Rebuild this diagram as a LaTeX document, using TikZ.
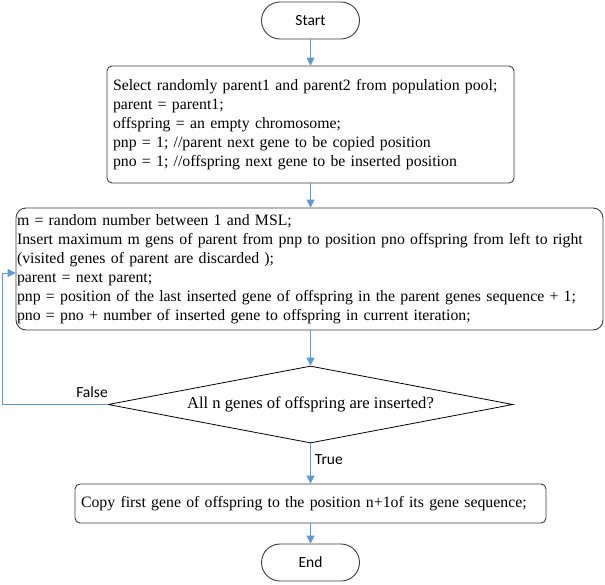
\documentclass[tikz,border=0pt]{standalone}
\usepackage{fontspec}
\setmainfont{Liberation Serif}
\newfontfamily\labelfont{Carlito}
\usetikzlibrary{shapes.geometric,arrows.meta}
\definecolor{flowblue}{RGB}{91,155,213}
\definecolor{boxline}{RGB}{60,60,60}
\hyphenpenalty=10000

\begin{document}
\begin{tikzpicture}[x=1pt,y=-1pt]
\tikzstyle{every node}+=[inner sep=0pt]
\tikzstyle{terminal}=[draw=boxline, line width=0.9pt, rounded corners=18.5pt, minimum width=98pt, minimum height=37pt, font=\labelfont\fontsize{15.5}{18}\selectfont]
\tikzstyle{process}=[draw=boxline, line width=0.9pt, rounded corners=5pt, align=left, font=\fontsize{15.8}{19}\selectfont]
\tikzstyle{decision}=[draw=black, line width=0.8pt, diamond, aspect=5.2, minimum width=405pt, minimum height=77pt, font=\fontsize{16.6}{19}\selectfont]
\tikzstyle{flow}=[draw=flowblue, line width=0.9pt, -{Triangle[length=8pt,width=8pt]}]
\tikzstyle{tag}=[font=\labelfont\fontsize{15.5}{18}\selectfont]
\useasboundingbox (0,0) rectangle (605,584);
% boxes
\node [terminal] (start) at (310.5,20.5) {Start};
\node [process, minimum width=407pt, minimum height=117pt, text width=395pt] (init) at (310.5,124.5) {Select randomly parent1 and parent2 from population pool;\\
parent = parent1;\\
offspring = an empty chromosome;\\
pnp = 1; //parent next gene to be copied position\\
pno = 1; //offspring next gene to be inserted position};
\node [process, rounded corners=10pt, minimum width=587pt, minimum height=122pt, text width=585pt] (insert) at (309.5,269) {m = random number between 1 and MSL;\\
Insert maximum m gens of parent from pnp to position pno offspring from left to right\\
(visited genes of parent are discarded );\\
parent = next parent;\\
pnp = position of the last inserted gene of offspring in the parent genes sequence + 1;\\
pno = pno + number of inserted gene to offspring in current iteration;};
\node [decision] (check) at (310.5,404.5) {All n genes of offspring are inserted?};
\node [process, minimum width=471pt, minimum height=39pt, text width=459pt] (copy) at (310.5,503.5) {Copy first gene of offspring to the position n+1of its gene sequence;};
\node [terminal] (stop) at (310.5,562.5) {End};
% connectors
\draw [flow] (start) -- (init);
\draw [flow] (init) -- (check.north |- insert.north);
\draw [flow] (insert.south -| check.north) -- (check);
\draw [flow] (check) -- node [tag, right, xshift=4pt, pos=0.4] {True} (copy);
\draw [flow] (copy) -- (stop);
\coordinate (bend) at (2.5,273);
\draw [flow] (check.west) -| (bend) -- (bend -| insert.west);
\node [tag] (false) at (92,392) {False};
\end{tikzpicture}
\end{document}
